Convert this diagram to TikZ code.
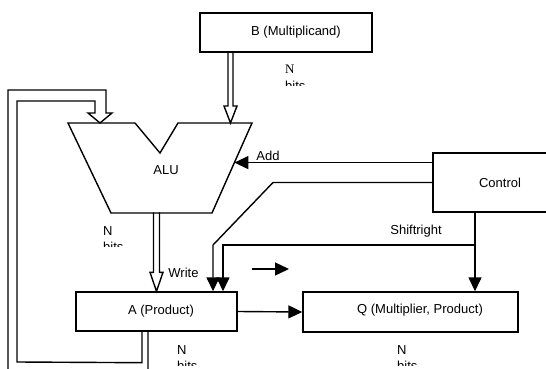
\documentclass[tikz,border=0pt]{standalone}
\usepackage{fontspec}
\setmainfont{Liberation Sans}
\newfontfamily\timesN{Liberation Serif}
\usetikzlibrary{arrows.meta,positioning,calc}

\tikzset{
  regbox/.style={draw,line width=1.4pt,minimum height=39pt,inner sep=0pt},
  sig/.style={line width=1.4pt,line join=miter,-{Triangle[length=14pt,width=13pt]}},
  bus/.style={line width=1.4pt,line join=miter},
  lbl/.style={inner sep=0pt},
}

% "N bits" tag, the second line cut off as in the original
\newcommand{\nbits}[4]{%
  \begin{scope}
    \clip (#2-3,#3-3) rectangle (#2+35,#3+20);
    \node[lbl,anchor=north west] (#1) at (#2,#3) {#4N};
    \node[lbl,anchor=north west] (#1b) at (#2,#3+16) {bits};
  \end{scope}}

\begin{document}
\begin{tikzpicture}[x=1pt,y=-1pt,font=\fontsize{13}{15}\selectfont]
\useasboundingbox (0,0) rectangle (546,369);
\clip (0,0) rectangle (546,369);

% registers and control
\node[regbox,minimum width=172pt] (mcand) at (286,32.5) {};
\node[lbl] (mcandtxt) at (296,32.5) {B (Multiplicand)};
\node[regbox,minimum width=161pt] (prodA) at (156.5,311.5) {};
\node[lbl] (prodAtxt) at (161,311) {A (Product)};
\node[regbox,minimum width=215pt,minimum height=40pt] (mq) at (410.5,312) {};
\node[lbl] (mqtxt) at (420,310.5) {Q (Multiplier, Product)};
\node[regbox,minimum width=134pt,minimum height=59pt] (ctrl) at (500,182.5) {Control};

% ALU outline
\coordinate (alu1) at (68,123);
\coordinate (alu2) at (135,123);
\coordinate (alu3) at (160,153);
\coordinate (alu4) at (178,123);
\coordinate (alu5) at (252,123);
\coordinate (alu6) at (212,213);
\coordinate (alu7) at (111,213);
\draw[bus] (alu1) -- (alu2) -- (alu3) -- (alu4) -- (alu5) -- (alu6) -- (alu7) -- cycle;
\node[lbl] (alu) at (166,170) {ALU};

% B into ALU
\coordinate (bin) at (230.5,123);
\draw[bus] (bin) ++(-2.5,-71) -- ++(0,54) -- ++(-4,0) -- (bin) -- ++(6.5,-17) -- ++(-4,0) -- ++(0,-54);

% ALU result into A
\draw[bus] (prodA.north) ++(-3,-79) -- ++(0,60) -- ++(-3.5,0) -- (prodA.north) -- ++(6.5,-19) -- ++(-3.5,0) -- ++(0,-60);

% A fed back to the ALU
\coordinate (fbin) at (100,123);
\draw[bus] ($(prodA.south)+(-8.5,0)$) -- ++(0,50) -- (8,381) -- (8,90) -- (106,90) -- (106,113)
  -- (112,113) -- (fbin) -- (88,113) -- (95,113) -- (95,101) -- (17,101) -- (17,362)
  -- ($(prodA.south)+(-14.5,31)$) -- ++(0,-31);

% control signals
\coordinate (addin) at ($(alu5)!0.44!(alu6)$);
\draw[sig] (ctrl.west |- addin) -- (addin);
\node[lbl] (addlbl) at (268,155.5) {Add};

\coordinate (wbend) at (273,182.5);
\coordinate (wtap) at (213,245);
\draw[sig] (ctrl.west) -- (wbend) -- (wtap) -- (prodA.north -| wtap);
\node[lbl] (writelbl) at (183.5,273) {Write};

\coordinate (sjoin) at (475,245);
\coordinate (stap) at (223,245);
\draw[sig] (ctrl.south -| sjoin) -- (sjoin) -- (stap) -- (prodA.north -| stap);
\draw[sig] (sjoin) -- (mq.north -| sjoin);
\node[lbl] (shiftlbl) at (416,231) {Shiftright};

% shift direction
\coordinate (dirs) at (252,269);
\coordinate (dire) at (289,269);
\draw[sig] (dirs) -- (dire);

% A to Q
\draw[sig] (prodA.east) -- (mq.west);

% widths
\nbits{nb}{285}{65}{\timesN}
\nbits{nalu}{103}{226}{}
\nbits{na}{177}{345}{}
\nbits{nq}{397}{345}{}
\end{tikzpicture}
\end{document}
